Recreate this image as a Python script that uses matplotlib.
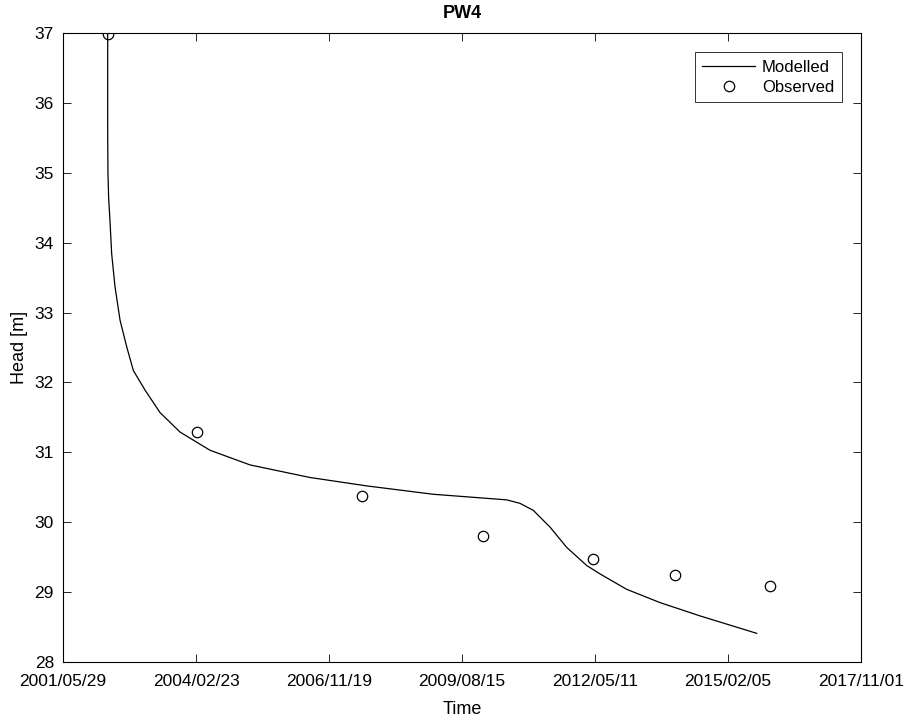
import matplotlib
matplotlib.use("Agg")
import matplotlib.pyplot as plt
import matplotlib.dates as mdates
import numpy as np
import pandas as pd

plt.rcParams['font.family'] = ['Liberation Sans', 'DejaVu Sans']

start_date = "2001-05-29"
# Modelled series: day offset from start date, head [m]
model_days = [336, 336, 338, 343, 353, 366, 391, 429, 479, 529, 617, 729, 880, 1105, 1406,
              1857, 2283, 2784, 3336, 3436, 3536, 3662, 3787, 3938, 4038, 4238,
              4489, 4789, 5216]
model_head = [36.98, 35.60, 35.00, 34.65, 34.32, 33.84, 33.37, 32.89, 32.51, 32.17, 31.89, 31.57,
              31.29, 31.03, 30.82, 30.64, 30.52, 30.40, 30.32, 30.27, 30.17, 29.93,
              29.64, 29.38, 29.26, 29.04, 28.85, 28.66, 28.41]
# Observed
obs_days = [336, 1005, 2248, 3158, 3985, 4602, 5316]
obs_head = [36.98, 31.29, 30.37, 29.80, 29.47, 29.24, 29.09]

tick_days = [0, 1000, 2000, 3000, 4000, 5000, 6000]
y_ticks = [28, 29, 30, 31, 32, 33, 34, 35, 36, 37]

t0 = pd.Timestamp(start_date)
mdates_model = t0 + pd.to_timedelta(model_days, unit="D")
mdates_obs = t0 + pd.to_timedelta(obs_days, unit="D")
mdates_ticks = t0 + pd.to_timedelta(tick_days, unit="D")

fig = plt.figure(figsize=(9.07, 7.21), dpi=100)
ax = fig.add_axes([63/907, 1 - 662/721, (861-63)/907, (662-33)/721])

ax.plot(mdates_model, model_head, color="black", lw=0.9, label="Modelled")
ax.plot(mdates_obs, obs_head, linestyle="none", marker="o", markersize=7.5,
        markerfacecolor="none", markeredgecolor="black", markeredgewidth=0.9,
        label="Observed")

ax.set_xlim(mdates_ticks[0], mdates_ticks[-1])
ax.set_ylim(28, 37)
ax.set_xticks(mdates_ticks)
ax.xaxis.set_major_formatter(mdates.DateFormatter("%Y/%m/%d"))
ax.set_yticks(y_ticks)
ax.tick_params(direction="in", length=6, width=0.6, labelsize=12.5,
               top=True, right=True)
ax.tick_params(axis="x", pad=9)
ax.tick_params(axis="y", pad=6.5)
for s in ax.spines.values():
    s.set_linewidth(0.8)

ax.set_xlabel("Time", fontsize=13, labelpad=8)
ax.set_ylabel("Head [m]", fontsize=13, labelpad=5)
ax.set_title("PW4", fontsize=13, fontweight="bold", pad=11)

leg = ax.legend(loc="upper right", fontsize=12, frameon=True, fancybox=False,
                edgecolor="black", borderaxespad=1.15, handlelength=3.2,
                borderpad=0.45, labelspacing=0.3, handletextpad=0.4)
leg.get_frame().set_linewidth(0.7)

fig.savefig("out.png", dpi=100, facecolor="white")
